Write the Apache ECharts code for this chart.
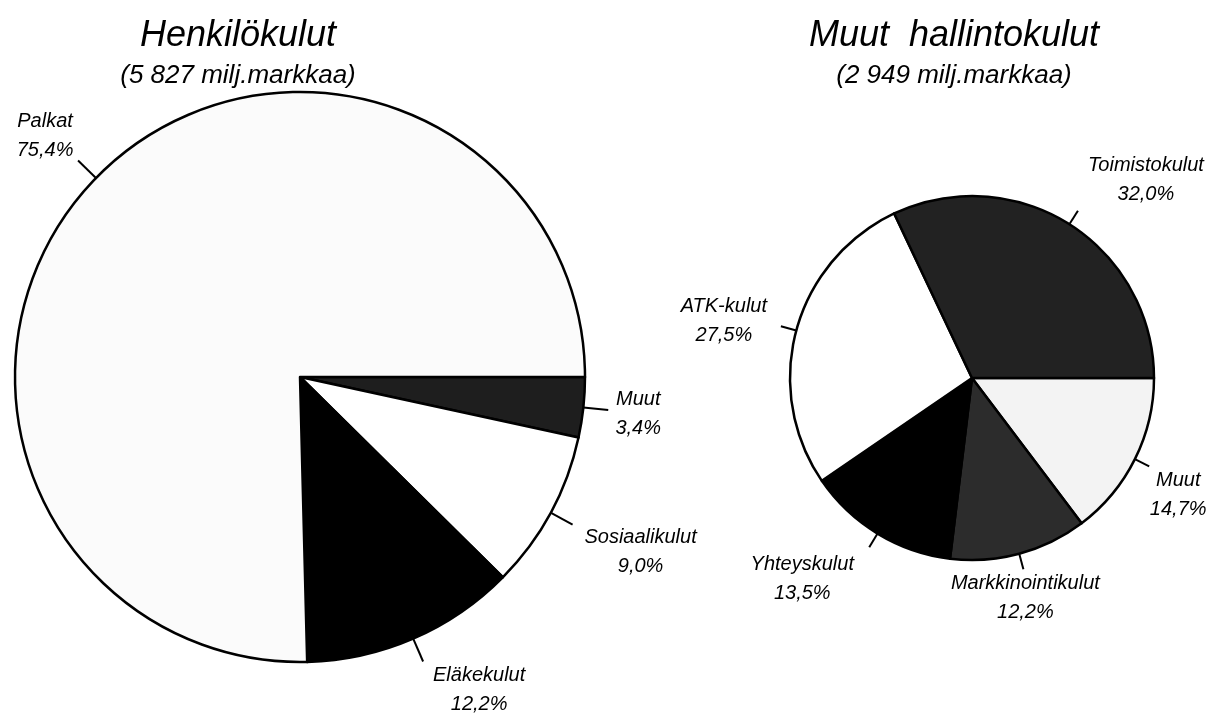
<!DOCTYPE html>
<html>
<head>
<meta charset="utf-8">
<script src="https://cdn.jsdelivr.net/npm/echarts@6/dist/echarts.min.js"></script>
<style>
  html, body { margin: 0; padding: 0; background: #fff; }
  #chart { width: 1227px; height: 713px; }
</style>
</head>
<body>
<div id="chart"></div>
<script>
// Henkilökulut (5 827 milj.markkaa), order clockwise from 3 o'clock
var staffNames = ['Muut', 'Sosiaalikulut', 'Eläkekulut', 'Palkat'];
var staffValues = [3.4, 9.0, 12.2, 75.4];
var staffLabels = ['3,4%', '9,0%', '12,2%', '75,4%'];

// Muut hallintokulut (2 949 milj.markkaa)
var adminNames = ['Muut', 'Markkinointikulut', 'Yhteyskulut', 'ATK-kulut', 'Toimistokulut'];
var adminValues = [14.7, 12.2, 13.5, 27.5, 32.0];
var adminLabels = ['14,7%', '12,2%', '13,5%', '27,5%', '32,0%'];

var staffColors = ['#1e1e1e', '#ffffff', '#000000', '#fbfbfb'];
var adminColors = ['#f3f3f3', '#2c2c2c', '#000000', '#ffffff', '#222222'];

// label centre offset from the end of each leader line
var staffOffsets = [[30, 4], [68, 27], [56, 28], [-33, -25]];
var adminOffsets = [[29, 29], [2, 29], [-67, 32], [-57, -5], [68, -31]];

var font = '"Liberation Sans", Arial, Helvetica, sans-serif';

function buildData(names, values, labels, colors) {
    var out = [];
    for (var i = 0; i < names.length; i++) {
        out.push({
            name: names[i],
            value: values[i],
            pct: labels[i],
            itemStyle: {color: colors[i]}
        });
    }
    return out;
}

function pieSeries(data, center, radius, lineLen, offsets) {
    return {
        type: 'pie',
        center: center,
        radius: radius,
        startAngle: 0,
        clockwise: true,
        silent: true,
        animation: false,
        avoidLabelOverlap: false,
        itemStyle: {borderColor: '#000', borderWidth: 2.5},
        label: {
            show: true,
            position: 'outside',
            color: '#000',
            fontFamily: font,
            fontStyle: 'italic',
            fontSize: 20,
            lineHeight: 29,
            align: 'center',
            formatter: function (p) {
                return p.name + '\n' + p.data.pct;
            }
        },
        labelLine: {
            show: true,
            length: lineLen,
            length2: 0,
            smooth: false,
            lineStyle: {color: '#000', width: 2}
        },
        labelLayout: function (p) {
            var pts = p.labelLinePoints;
            var end = pts[pts.length - 1];
            var o = offsets[p.dataIndex];
            return {
                x: end[0] + o[0],
                y: end[1] + o[1],
                align: 'center',
                verticalAlign: 'middle',
                labelLinePoints: pts
            };
        },
        data: data
    };
}

var myChart = echarts.init(document.getElementById('chart'));

var titleStyle = {fontFamily: font, fontStyle: 'italic', fontWeight: 'normal', fontSize: 36, color: '#000'};
var subStyle = {fontFamily: font, fontStyle: 'italic', fontWeight: 'normal', fontSize: 26, color: '#000'};

var option = {
    backgroundColor: '#fff',
    title: [
        {text: 'Henkilökulut', left: 233, top: 13, textAlign: 'center', textStyle: titleStyle},
        {text: '(5 827 milj.markkaa)', left: 233, top: 58, textAlign: 'center', textStyle: subStyle},
        {text: 'Muut  hallintokulut', left: 949, top: 13, textAlign: 'center', textStyle: titleStyle},
        {text: '(2 949 milj.markkaa)', left: 949, top: 58, textAlign: 'center', textStyle: subStyle}
    ],
    series: [
        pieSeries(buildData(staffNames, staffValues, staffLabels, staffColors), [300, 377], 285, 25, staffOffsets),
        pieSeries(buildData(adminNames, adminValues, adminLabels, adminColors), [972, 378], 182, 16, adminOffsets)
    ]
};

myChart.setOption(option);
</script>
</body>
</html>
